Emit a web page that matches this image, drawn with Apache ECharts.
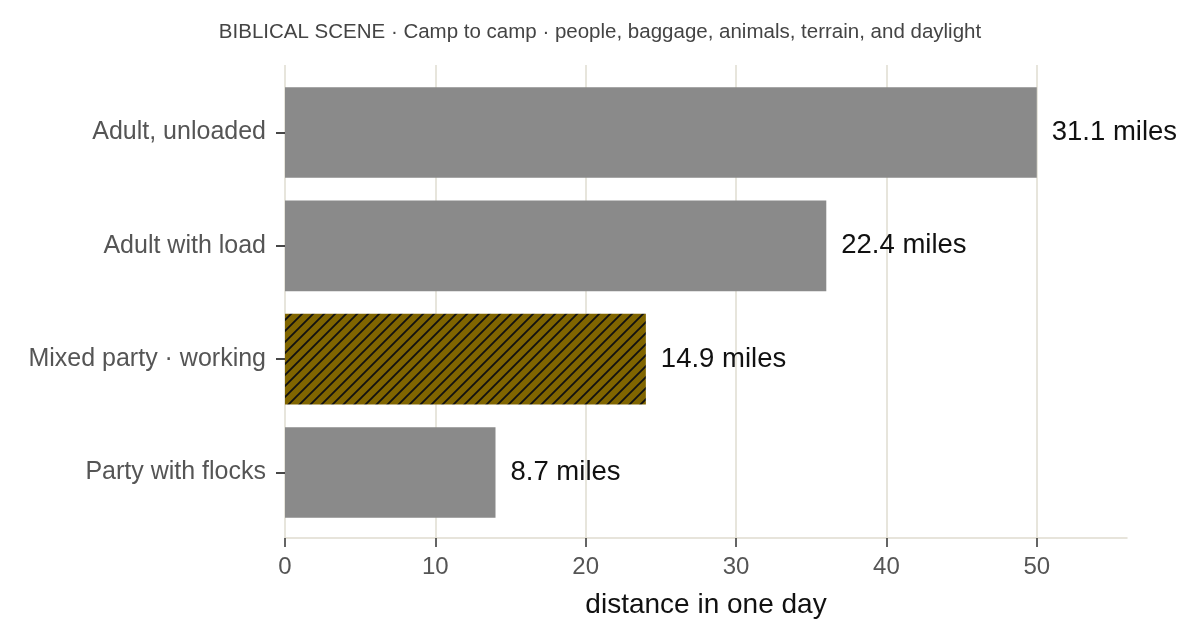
<!DOCTYPE html>
<html>
<head>
<meta charset="utf-8">
<style>
  html, body { margin: 0; padding: 0; background: #ffffff; }
  #chart { width: 1200px; height: 637px; }
</style>
<script src="https://cdn.jsdelivr.net/npm/echarts@6/dist/echarts.min.js"></script>
</head>
<body>
<div id="chart"></div>
<script>
  var categories = ['Adult, unloaded', 'Adult with load', 'Mixed party \u00b7 working', 'Party with flocks'];
  var distanceKm = [50, 36, 24, 14];
  var distanceMiles = ['31.1', '22.4', '14.9', '8.7'];
  var highlightIndex = 2;
  var xTicks = [0, 10, 20, 30, 40, 50];

  var FONT = '"Liberation Sans", Arial, Helvetica, sans-serif';
  var GRID = '#dfdcd0';
  var X_MAX = 56;

  // hatched fill for the highlighted bar
  function hatch() {
    var size = 11;
    var c = document.createElement('canvas');
    c.width = size; c.height = size;
    var g = c.getContext('2d');
    g.fillStyle = '#806500';
    g.fillRect(0, 0, size, size);
    g.strokeStyle = '#111111';
    g.lineWidth = 1.8;
    g.beginPath();
    g.moveTo(-2, size + 2); g.lineTo(size + 2, -2);
    g.moveTo(-2, 2); g.lineTo(2, -2);
    g.moveTo(size - 2, size + 2); g.lineTo(size + 2, size - 2);
    g.stroke();
    return { image: c, repeat: 'repeat' };
  }

  var barData = distanceKm.map(function (v, i) {
    var item = { value: v };
    if (i === highlightIndex) { item.itemStyle = { color: hatch() }; }
    return item;
  });

  var chart = echarts.init(document.getElementById('chart'), null, { renderer: 'canvas' });
  chart.setOption({
    animation: false,
    backgroundColor: '#ffffff',
    textStyle: { fontFamily: FONT },
    title: {
      text: 'BIBLICAL SCENE \u00b7 Camp to camp \u00b7 people, baggage, animals, terrain, and daylight',
      left: 'center',
      top: 17,
      textStyle: { fontFamily: FONT, fontSize: 20.5, fontWeight: 'normal', color: '#444444' }
    },
    // grid 0: panel with gridlines and x axis; grid 1: bars (ggplot-like 0.6 band expansion)
    grid: [
      { left: 285, right: 73, top: 65, bottom: 99 },
      { left: 285, right: 73, top: 75.8, bottom: 107.8 }
    ],
    xAxis: [{
      type: 'value',
      gridIndex: 0,
      min: 0,
      max: X_MAX,
      interval: 10,
      name: 'distance in one day',
      nameLocation: 'middle',
      nameGap: 53,
      nameTextStyle: { fontFamily: FONT, fontSize: 28, color: '#111111' },
      axisLine: { show: true, lineStyle: { color: GRID, width: 1.5 } },
      axisTick: { show: true, length: 9, lineStyle: { color: '#333333', width: 1.5 } },
      axisLabel: {
        fontFamily: FONT, fontSize: 24, color: '#555555', margin: 17,
        showMaxLabel: false,
        formatter: function (v) { return xTicks.indexOf(v) >= 0 ? String(v) : ''; }
      },
      splitLine: { show: true, showMaxLine: false, lineStyle: { color: GRID, width: 1.5 } }
    }, {
      type: 'value',
      gridIndex: 1,
      min: 0,
      max: X_MAX,
      show: false,
      splitLine: { show: false }
    }],
    yAxis: [{
      type: 'value',
      gridIndex: 0,
      show: false,
      splitLine: { show: false }
    }, {
      type: 'category',
      gridIndex: 1,
      inverse: true,
      data: categories,
      axisLine: { show: false },
      axisTick: { show: true, alignWithLabel: true, length: 9, lineStyle: { color: '#333333', width: 1.8 } },
      axisLabel: { fontFamily: FONT, fontSize: 25, color: '#555555', margin: 19, lineHeight: 30, padding: [6, 0, 0, 0] },
      splitLine: { show: false }
    }],
    series: [{
      type: 'bar',
      xAxisIndex: 1,
      yAxisIndex: 1,
      data: barData,
      barCategoryGap: '20%',
      itemStyle: { color: '#8a8a8a' },
      label: {
        show: true,
        position: 'right',
        distance: 15,
        fontFamily: FONT,
        fontSize: 27.5,
        color: '#111111',
        formatter: function (p) { return distanceMiles[p.dataIndex] + ' miles'; }
      }
    }]
  });
</script>
</body>
</html>
